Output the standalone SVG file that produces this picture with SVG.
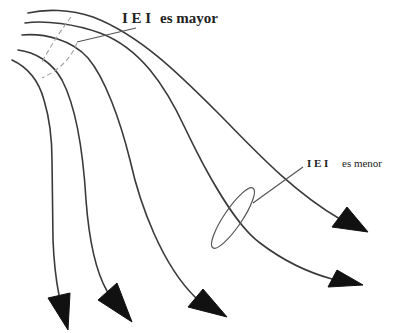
<svg xmlns="http://www.w3.org/2000/svg" width="406" height="333" viewBox="0 0 406 333">
<style>
.ray{fill:none;stroke:#3a3a3a;stroke-width:1.6;stroke-linecap:round}
.head{fill:#111;stroke:#111;stroke-width:1;stroke-linejoin:round}
.wave{fill:none;stroke:#a0a0a0;stroke-width:1.1;stroke-dasharray:5 3}
.lead{fill:none;stroke:#555;stroke-width:1.2}
.lbl{font-family:"Liberation Serif","Times New Roman",serif;fill:#222}
</style>
<rect width="406" height="333" fill="#fff"/>
<g id="connectors">
<path class="ray" d="M28,13 C45,9 70,9 93,17 C140,35 180,75 217,112 C250,145 290,190 340,219"/>
<polygon class="head" points="332,227 347,207 368,232"/>
<path class="ray" d="M25,23 C45,20 75,24 100,33 C140,48 165,85 185,128 C205,170 235,225 260,243 C285,262 310,273 332,279"/>
<polygon class="head" points="328,287 337,270 363,285"/>
<path class="ray" d="M22,35 C45,33 72,40 88,58 C105,78 120,120 130,160 C140,205 162,265 196,298"/>
<polygon class="head" points="188,307 203,289 227,317"/>
<path class="ray" d="M18,50 C35,52 52,62 62,80 C75,105 83,150 86,200 C89,240 95,270 107,291"/>
<polygon class="head" points="98,300 117,283 132,322"/>
<path class="ray" d="M12,60 C25,66 38,78 44,100 C50,120 52,140 52,160 L53,240 C54,265 56,280 59,295"/>
<polygon class="head" points="48,298 70,293 68,330"/>
</g>
<g id="wavefronts">
<path class="wave" d="M71,17 Q55,38 42,62"/>
<path class="wave" d="M77,43 Q68,66 42,78"/>
</g>
<g id="label-mayor">
<path class="lead" d="M77,42 L136,28"/>
<text class="lbl" x="122" y="23" font-size="15" font-weight="bold">I E I</text>
<text class="lbl" x="160" y="23" font-size="15" font-weight="bold">es mayor</text>
</g>
<g id="label-menor">
<ellipse cx="233" cy="218" rx="36" ry="9" transform="rotate(-56 233 218)" fill="none" stroke="#555" stroke-width="1.2"/>
<path class="lead" d="M253,203 L303,167"/>
<text class="lbl" x="307" y="167" font-size="11" font-weight="bold">I E I</text>
<text class="lbl" x="342" y="167" font-size="11">es menor</text>
</g>
</svg>
